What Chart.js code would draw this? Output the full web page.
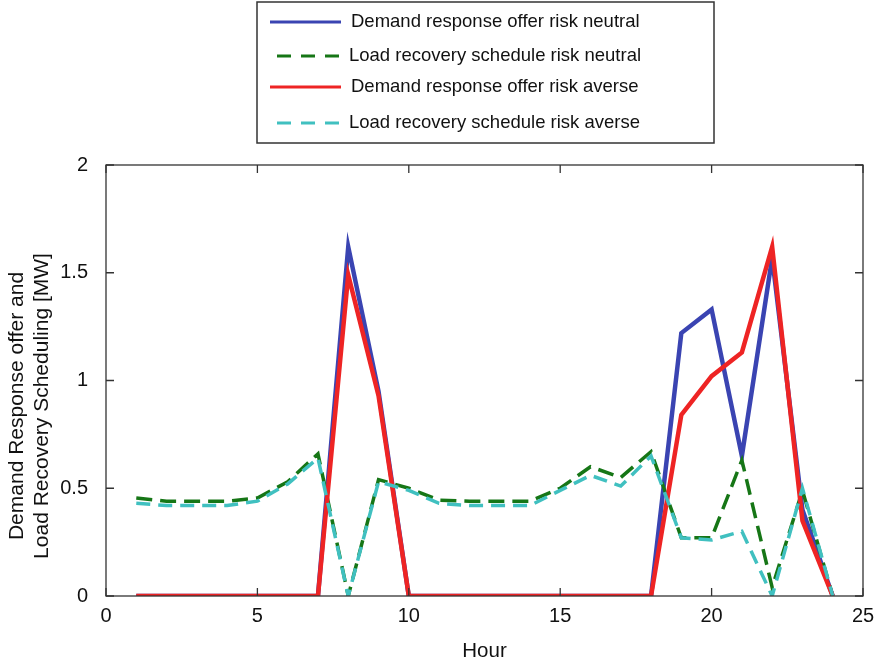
<!DOCTYPE html>
<html>
<head>
<meta charset="utf-8">
<script src="https://cdn.jsdelivr.net/npm/chart.js@4/dist/chart.umd.min.js"></script>
<style>
  html, body { margin: 0; padding: 0; background: #fff; }
  #wrap { width: 877px; height: 664px; }
</style>
</head>
<body>
<div id="wrap"><canvas id="myChart" width="877" height="664"></canvas></div>
<script>
  // hourly values, MW
  const hours = [1, 2, 3, 4, 5, 6, 7, 8, 9, 10, 11, 12, 13, 14, 15, 16, 17, 18, 19, 20, 21, 22, 23, 24];
  const drNeutral = [0, 0, 0, 0, 0, 0, 0, 1.62, 0.95, 0, 0, 0, 0, 0, 0, 0, 0, 0, 1.22, 1.33, 0.65, 1.57, 0.40, 0];
  const lrNeutral = [0.455, 0.44, 0.44, 0.44, 0.455, 0.53, 0.66, 0, 0.54, 0.50, 0.445, 0.44, 0.44, 0.44, 0.50, 0.60, 0.55, 0.67, 0.27, 0.27, 0.63, 0.04, 0.49, 0];
  const drAverse = [0, 0, 0, 0, 0, 0, 0, 1.49, 0.93, 0, 0, 0, 0, 0, 0, 0, 0, 0, 0.84, 1.02, 1.13, 1.62, 0.35, 0];
  const lrAverse = [0.43, 0.42, 0.42, 0.42, 0.44, 0.52, 0.64, 0, 0.53, 0.49, 0.43, 0.42, 0.42, 0.42, 0.49, 0.56, 0.51, 0.65, 0.27, 0.26, 0.30, 0, 0.50, 0];
  const xTicks = [0, 5, 10, 15, 20, 25];
  const yTicks = [0, 0.5, 1, 1.5, 2];
  const yTitle = ['Demand Response offer and', 'Load Recovery Scheduling [MW]'];

  const FONT = 'Liberation Sans, Arial, Helvetica, sans-serif';

  const toPoints = vals => hours.map((h, i) => ({ x: h, y: vals[i] }));

  // box around the axes with inward ticks on all four sides
  const frameTicks = {
    id: 'frameTicks',
    afterDatasetsDraw(chart) {
      const { ctx, chartArea: a, scales } = chart;
      const len = 8;
      ctx.save();
      ctx.strokeStyle = '#333';
      ctx.lineWidth = 1.3;
      ctx.strokeRect(a.left, a.top, a.right - a.left, a.bottom - a.top);
      ctx.beginPath();
      xTicks.forEach(t => {
        const px = scales.x.getPixelForValue(t);
        ctx.moveTo(px, a.bottom); ctx.lineTo(px, a.bottom - len);
        ctx.moveTo(px, a.top); ctx.lineTo(px, a.top + len);
      });
      yTicks.forEach(t => {
        const py = scales.y.getPixelForValue(t);
        ctx.moveTo(a.left, py); ctx.lineTo(a.left + len, py);
        ctx.moveTo(a.right, py); ctx.lineTo(a.right - len, py);
      });
      ctx.stroke();
      ctx.restore();
    }
  };

  // two-line rotated y title, sitting a little below the axis middle
  const yTitleDraw = {
    id: 'yTitleDraw',
    afterDraw(chart) {
      const ctx = chart.ctx;
      ctx.save();
      ctx.fillStyle = '#111';
      ctx.font = '21px ' + FONT;
      ctx.textAlign = 'center';
      ctx.textBaseline = 'middle';
      ctx.translate(0, 406);
      ctx.rotate(-Math.PI / 2);
      ctx.fillText(yTitle[0], 0, 17);
      ctx.fillText(yTitle[1], 0, 42);
      ctx.restore();
    }
  };

  // boxed legend above the axes
  const boxLegend = {
    id: 'boxLegend',
    afterDraw(chart) {
      const ctx = chart.ctx;
      const bx = 257, by = 2, bw = 457, bh = 141;
      const rows = [22, 56, 87, 123];
      ctx.save();
      ctx.fillStyle = '#fff';
      ctx.fillRect(bx, by, bw, bh);
      ctx.strokeStyle = '#333';
      ctx.lineWidth = 1.5;
      ctx.strokeRect(bx, by, bw, bh);
      ctx.font = '18.5px ' + FONT;
      ctx.textBaseline = 'middle';
      chart.data.datasets.forEach((ds, i) => {
        const y = rows[i];
        const dashed = ds.borderDash.length > 0;
        ctx.beginPath();
        ctx.strokeStyle = ds.borderColor;
        ctx.lineWidth = 3;
        ctx.setLineDash(dashed ? [14, 10] : []);
        ctx.moveTo(dashed ? 277 : 270, y);
        ctx.lineTo(341, y);
        ctx.stroke();
        ctx.setLineDash([]);
        ctx.fillStyle = '#111';
        ctx.fillText(ds.label, dashed ? 349 : 351, y);
      });
      ctx.restore();
    }
  };

  const ctx = document.getElementById('myChart');
  new Chart(ctx, {
    type: 'line',
    data: {
      datasets: [
        {
          label: 'Demand response offer risk neutral',
          data: toPoints(drNeutral),
          borderColor: 'rgb(58, 68, 178)',
          borderWidth: 4.5,
          borderDash: [],
          pointRadius: 0,
          tension: 0,
          order: 4
        },
        {
          label: 'Load recovery schedule risk neutral',
          data: toPoints(lrNeutral),
          borderColor: 'rgb(22, 118, 22)',
          borderWidth: 3.5,
          borderDash: [16, 8],
          pointRadius: 0,
          tension: 0,
          order: 3
        },
        {
          label: 'Demand response offer risk averse',
          data: toPoints(drAverse),
          borderColor: 'rgb(238, 36, 36)',
          borderWidth: 4.5,
          borderDash: [],
          pointRadius: 0,
          tension: 0,
          order: 2
        },
        {
          label: 'Load recovery schedule risk averse',
          data: toPoints(lrAverse),
          borderColor: 'rgb(64, 192, 192)',
          borderWidth: 3.5,
          borderDash: [14, 8],
          pointRadius: 0,
          tension: 0,
          order: 1
        }
      ]
    },
    options: {
      responsive: false,
      animation: false,
      events: [],
      layout: { padding: { top: 165, right: 14, left: 0, bottom: 0 } },
      scales: {
        x: {
          type: 'linear',
          min: 0,
          max: 25,
          afterFit(scale) { scale.height = 68; },
          afterBuildTicks(scale) { scale.ticks = xTicks.map(v => ({ value: v })); },
          grid: { display: false },
          border: { display: false },
          ticks: { color: '#111', font: { family: FONT, size: 20 }, padding: 0, maxRotation: 0 },
          title: { display: true, text: 'Hour', color: '#111', font: { family: FONT, size: 20.5 }, padding: { top: 6, bottom: 0 } }
        },
        y: {
          min: 0,
          max: 2,
          afterFit(scale) { scale.width = 106; },
          afterBuildTicks(scale) { scale.ticks = yTicks.map(v => ({ value: v })); },
          grid: { display: false },
          border: { display: false },
          ticks: {
            color: '#111',
            font: { family: FONT, size: 20 },
            padding: 10,
            callback: v => String(v)
          }
        }
      },
      plugins: {
        legend: { display: false },
        tooltip: { enabled: false }
      }
    },
    plugins: [frameTicks, yTitleDraw, boxLegend]
  });
</script>
</body>
</html>
